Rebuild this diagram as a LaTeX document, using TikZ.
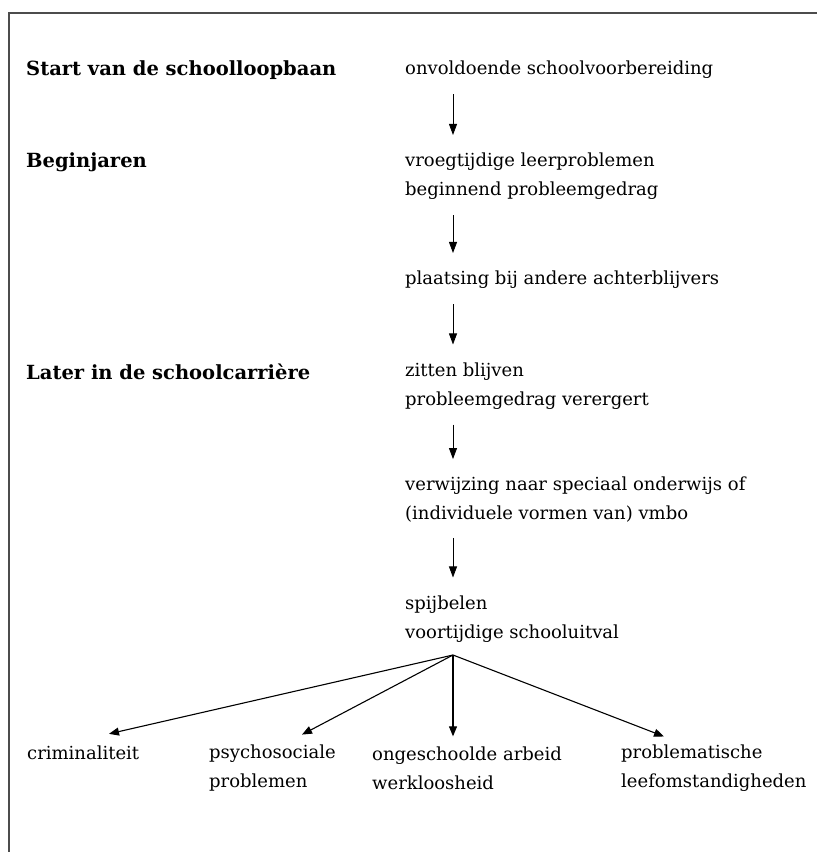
\documentclass[tikz,border=0pt]{standalone}
\usepackage{fontspec}
\setmainfont{DejaVu Serif}
\usetikzlibrary{arrows.meta}
\tikzset{
  txt/.style={anchor=west, inner sep=0pt, align=left, font=\fontsize{18}{29}\selectfont},
  stage/.style={txt, font=\fontsize{19.5}{29}\selectfont\bfseries},
  arr/.style={line width=0.8pt, -{Triangle[width=8pt,length=11pt]}, shorten <=15pt, shorten >=18pt},
  fanarr/.style={line width=1.1pt, -{Triangle[width=8pt,length=10pt]}},
}
\begin{document}
\begin{tikzpicture}[x=1pt,y=-1pt]
        \useasboundingbox (0,0) rectangle (817,852);
        %% Frame
        \draw[line width=1.5pt, black!70] (9,852) -- (9,13) -- (817,13);
        %% Stages
        \node[stage] (start) at (26,70) {Start van de schoolloopbaan};
        \node[stage] (begin) at (26,162) {Beginjaren};
        \node[stage] (later) at (26,372) {Later in de schoolcarrière};
        %% Chain
        \node[txt] (onv) at (405,70) {onvoldoende schoolvoorbereiding};
        \node[txt] (vroeg) at (405,176.5) {vroegtijdige leerproblemen\\beginnend probleemgedrag};
        \node[txt] (plaats) at (405,280) {plaatsing bij andere achterblijvers};
        \node[txt] (zitten) at (405,386) {zitten blijven\\probleemgedrag verergert};
        \node[txt] (verw) at (405,500) {verwijzing naar speciaal onderwijs of\\(individuele vormen van) vmbo};
        \node[txt] (spijb) at (405,619) {spijbelen\\voortijdige schooluitval};
        \coordinate (ax) at (453,0);
        \foreach \a/\b in {onv/vroeg, vroeg/plaats, plaats/zitten, zitten/verw, verw/spijb} {
            \draw[arr] (\a.south -| ax) -- (\b.north -| ax);
        }
        %% Outcomes
        \node[txt] (crim) at (27,753) {criminaliteit};
        \node[txt] (psych) at (209,768) {psychosociale\\problemen};
        \node[txt] (onges) at (372,768) {ongeschoolde arbeid\\werkloosheid};
        \node[txt] (probl) at (621,768) {problematische\\leefomstandigheden};
        \coordinate (fan) at (453,655);
        \draw[fanarr] (fan) -- ([xshift=82pt,yshift=12pt]crim.north west);
        \draw[fanarr] (fan) -- ([xshift=93pt,yshift=10pt]psych.north west);
        \draw[fanarr] (fan) -- ([xshift=81pt,yshift=10pt]onges.north west);
        \draw[fanarr] (fan) -- ([xshift=43pt,yshift=8pt]probl.north west);
\end{tikzpicture}
\end{document}
